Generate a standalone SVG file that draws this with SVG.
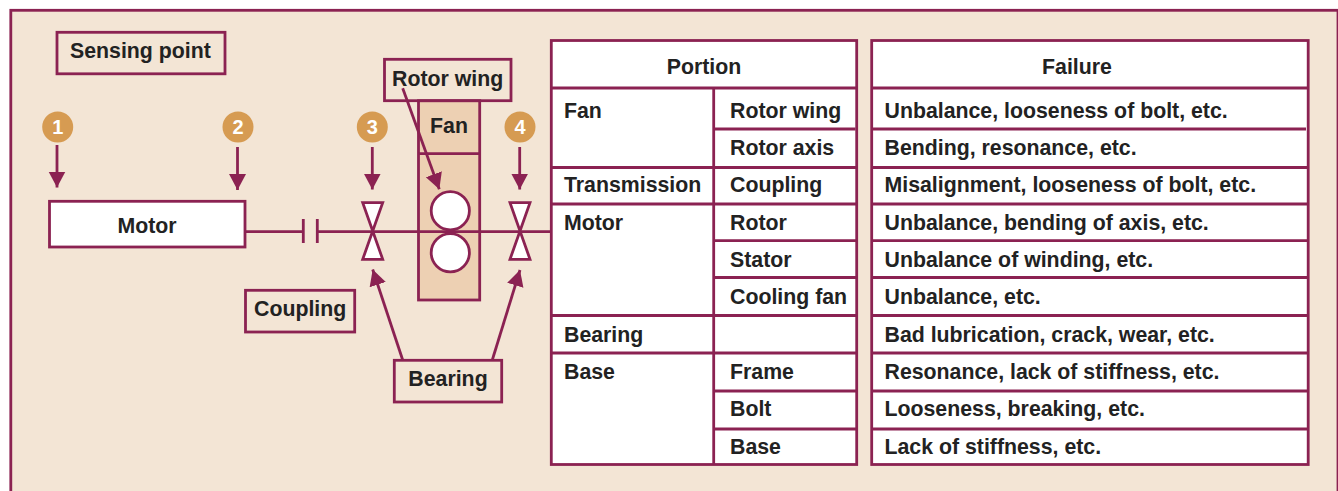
<svg xmlns="http://www.w3.org/2000/svg" width="1338" height="491" viewBox="0 0 1338 491">
<style>
text{font-family:"Liberation Sans",Arial,sans-serif;font-weight:700;font-size:21.3px;fill:#222}
.c{text-anchor:middle}
.box{fill:#f3e5d5;stroke:#8b2252;stroke-width:2.8}
.w{fill:#fff;stroke:#8b2252;stroke-width:2.8}
.fan{fill:#edd0b3;stroke:#8b2252;stroke-width:2.8}
.l{fill:none;stroke:#8b2252;stroke-width:2.8}
.a{fill:none;stroke:#8b2252;stroke-width:2.8;marker-end:url(#h)}
.dot{fill:#d69b52}
.n{fill:#fff;text-anchor:middle;font-size:20px}
</style>
<defs>
<marker id="h" markerUnits="userSpaceOnUse" markerWidth="20" markerHeight="20" refX="16" refY="10" orient="auto" viewBox="0 0 20 20"><path d="M0 1.5L16 10L0 18.5Z" fill="#8b2252"/></marker>
</defs>
<rect width="1338" height="491" fill="#fff"/>
<rect id="frame" x="10.8" y="10.3" width="1327.2" height="490" class="box"/>
<g id="sensing-point"><rect x="57" y="32.3" width="168" height="41.5" class="box"/><text x="70" y="58.3">Sensing point</text></g>
<g id="point-1"><circle cx="57.7" cy="127" r="15.5" class="dot"/><text x="57.7" y="134" class="n">1</text></g>
<g id="point-2"><circle cx="238" cy="127" r="15.5" class="dot"/><text x="238" y="134" class="n">2</text></g>
<g id="point-3"><circle cx="372.3" cy="127" r="15.5" class="dot"/><text x="372.3" y="134" class="n">3</text></g>
<g id="point-4"><circle cx="520" cy="127" r="15.5" class="dot"/><text x="520" y="134" class="n">4</text></g>
<g id="fan"><rect x="418.5" y="100.7" width="61.2" height="199.3" class="fan"/><path d="M418.5 153.7H479.7" class="l"/><text x="449" y="132.7" class="c">Fan</text></g>
<g id="connectors">
<path d="M245 231.7H303M303.3 219V243M317.3 219V243M317.3 231.7H551" class="l"/>
<path d="M57 145V187.5" class="a"/>
<path d="M237.5 147V190" class="a"/>
<path d="M372.3 147V189.5" class="a"/>
<path d="M519.7 147V189.5" class="a"/>
<path d="M402.7 88.3L439.3 189.3" class="a"/>
<path d="M402.7 360L372.7 269.5" class="a"/>
<path d="M492.3 360L520 270" class="a"/>
</g>
<g id="motor"><rect x="49.5" y="201.3" width="195.5" height="45.7" class="w"/><text x="147" y="233" class="c">Motor</text></g>
<g id="rotor-wing-box"><rect x="384.5" y="59.3" width="126.5" height="41.4" class="box" fill-opacity="0"/><text x="392" y="85.7">Rotor wing</text></g>
<g id="rotor"><circle cx="450.3" cy="210.7" r="19.1" class="w"/><circle cx="450.3" cy="252.7" r="19.1" class="w"/></g>
<g id="bearing-3"><path d="M362.7 202.7H382.7L362.7 259.3H382.7Z" class="w"/></g>
<g id="bearing-4"><path d="M510 202.7H530L510 259.3H530Z" class="w"/></g>
<g id="coupling"><rect x="245.5" y="290.3" width="109.2" height="41.7" class="box"/><text x="254" y="315.7">Coupling</text></g>
<g id="bearing"><rect x="394.3" y="360.3" width="107.4" height="41.7" class="box"/><text x="448" y="385.7" class="c">Bearing</text></g>
<g id="portion-table">
<rect x="551.3" y="40.5" width="305.4" height="424" class="w"/>
<path d="M713.7 88V464.5M551.3 88H856.7M713.7 129H855.5M551.3 167.5H856.7M551.3 204H856.7M713.7 240.7H856.7M713.7 277.5H856.7M551.3 315.5H856.7M551.3 353H856.7M713.7 391H856.7M713.7 429H856.7" class="l"/>
<text x="704" y="74" class="c">Portion</text>
<text x="564" y="118">Fan</text><text x="730" y="118">Rotor wing</text>
<text x="730" y="155">Rotor axis</text>
<text x="564" y="192">Transmission</text><text x="730" y="192">Coupling</text>
<text x="564" y="230">Motor</text><text x="730" y="230">Rotor</text>
<text x="730" y="267">Stator</text>
<text x="730" y="304">Cooling fan</text>
<text x="564" y="342">Bearing</text>
<text x="564" y="379">Base</text><text x="730" y="379">Frame</text>
<text x="730" y="416">Bolt</text>
<text x="730" y="454">Base</text>
</g>
<g id="failure-table">
<rect x="871.7" y="40.5" width="436.5" height="424" class="w"/>
<path d="M871.7 88H1308.2M871 129H1306M871.7 167.5H1308.2M871.7 204H1308.2M871.7 240.7H1308.2M871.7 277.5H1308.2M871.7 315.5H1308.2M871.7 353H1308.2M871.7 391H1308.2M871.7 429H1308.2" class="l"/>
<text x="1077" y="74" class="c">Failure</text>
<text x="884.5" y="118">Unbalance, looseness of bolt, etc.</text>
<text x="884.5" y="155">Bending, resonance, etc.</text>
<text x="884.5" y="192">Misalignment, looseness of bolt, etc.</text>
<text x="884.5" y="230">Unbalance, bending of axis, etc.</text>
<text x="884.5" y="267">Unbalance of winding, etc.</text>
<text x="884.5" y="304">Unbalance, etc.</text>
<text x="884.5" y="342">Bad lubrication, crack, wear, etc.</text>
<text x="884.5" y="379">Resonance, lack of stiffness, etc.</text>
<text x="884.5" y="416">Looseness, breaking, etc.</text>
<text x="884.5" y="454">Lack of stiffness, etc.</text>
</g>
</svg>
